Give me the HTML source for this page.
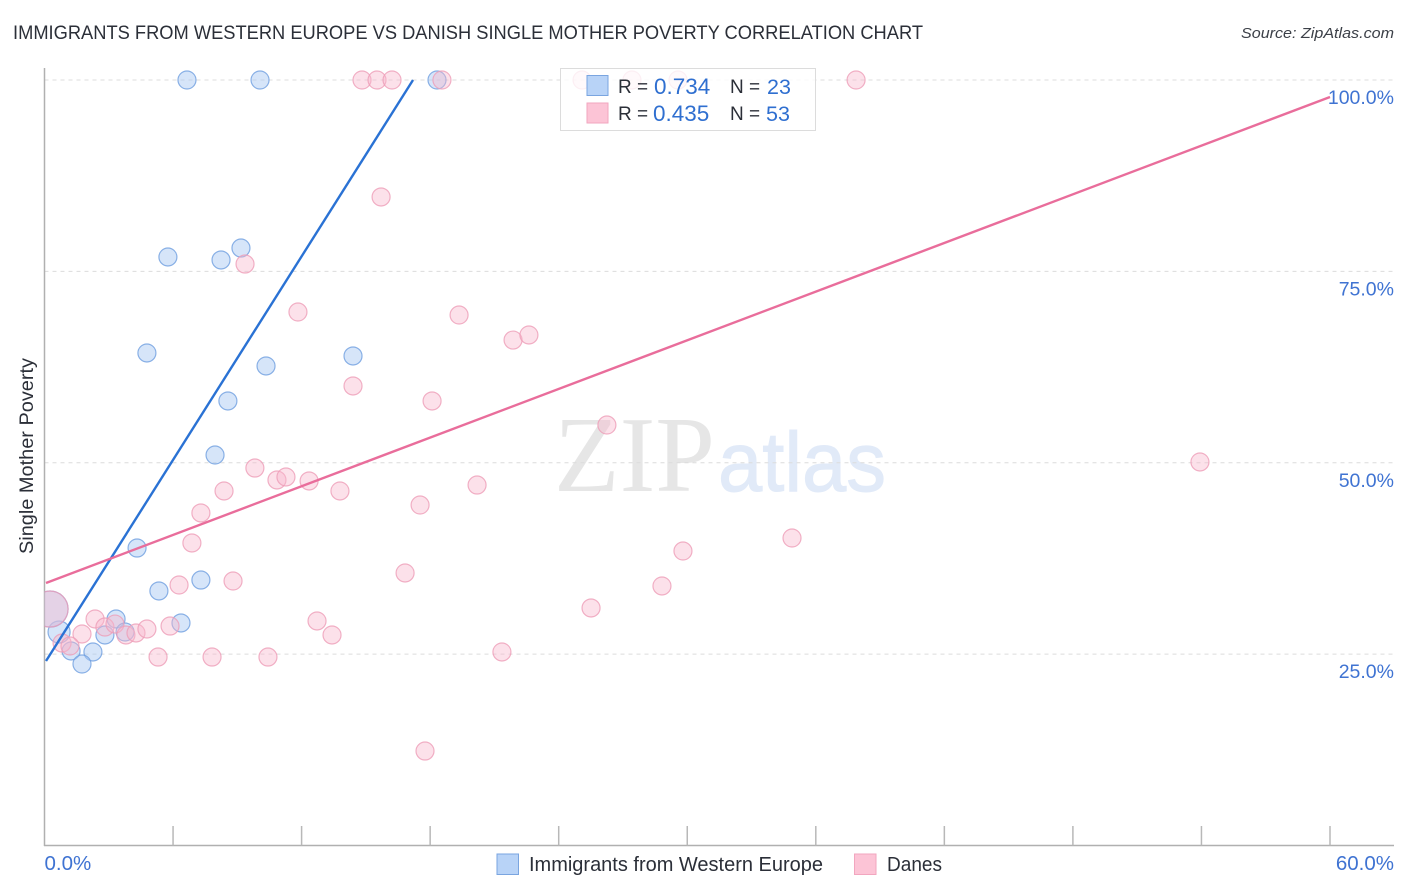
<!DOCTYPE html>
<html>
<head>
<meta charset="utf-8">
<title>Immigrants from Western Europe vs Danish Single Mother Poverty Correlation Chart</title>
<style>
html,body{margin:0;padding:0;background:#fff;}
svg{display:block;font-family:"Liberation Sans",sans-serif;}
</style>
</head>
<body>
<svg id="chart" width="1406" height="892" viewBox="0 0 1406 892" xmlns="http://www.w3.org/2000/svg">
  <rect x="0" y="0" width="1406" height="892" fill="#fff"/>
  <text x="13" y="39" font-size="19" fill="#2b2f38" textLength="910" lengthAdjust="spacingAndGlyphs">IMMIGRANTS FROM WESTERN EUROPE VS DANISH SINGLE MOTHER POVERTY CORRELATION CHART</text>
  <text x="1394" y="38" font-size="15" font-style="italic" fill="#3c4048" text-anchor="end" textLength="153" lengthAdjust="spacingAndGlyphs">Source: ZipAtlas.com</text>
  <g>
    <text x="554" y="491" font-family="'Liberation Serif',serif" font-size="108" fill="#e6e6e6" textLength="161" lengthAdjust="spacingAndGlyphs">ZIP</text>
    <text x="718" y="491" font-size="84" fill="#e1eaf8" stroke="#e1eaf8" stroke-width="1" textLength="168" lengthAdjust="spacingAndGlyphs">atlas</text>
  </g>
  <g id="grid"></g>
  <g id="axes">
    <line x1="44.5" y1="68" x2="44.5" y2="846" stroke="#b0b0b0" stroke-width="1.5"/>
    <line x1="44" y1="845.5" x2="1394" y2="845.5" stroke="#b0b0b0" stroke-width="1.5"/>
  </g>
  <g id="xticks"></g>
  <g id="ylabels"></g>
  <g id="xlabels"></g>
  <text transform="translate(33,456) rotate(-90)" font-size="19" fill="#2b2f38" text-anchor="middle" textLength="196" lengthAdjust="spacingAndGlyphs">Single Mother Poverty</text>
  <defs>
    <clipPath id="plot-clip"><rect x="44.5" y="60" width="1350" height="786"/></clipPath>
  </defs>
  <g id="points" clip-path="url(#plot-clip)"></g>
  <g id="trends"></g>

  <g>
    <rect x="560.5" y="68.5" width="255" height="62" fill="#fff" fill-opacity="0.8" stroke="#dcdcdc" stroke-width="1"/>
    <rect x="587" y="75.5" width="21" height="20" fill="#b8d3f7" stroke="#7aa5e0" stroke-width="1"/>
    <rect x="587" y="103" width="21" height="20" fill="#fcc4d6" stroke="#f2a6bf" stroke-width="1"/>
    <text x="618" y="93" font-size="19" fill="#2b2f38">R =</text>
    <text x="654" y="94" font-size="22.5" fill="#2f6fd0">0.734</text>
    <text x="730" y="93" font-size="19" fill="#2b2f38">N =</text>
    <text x="767" y="94" font-size="21.5" fill="#2f6fd0">23</text>
    <text x="618" y="120" font-size="19" fill="#2b2f38">R =</text>
    <text x="653" y="121" font-size="22.5" fill="#2f6fd0">0.435</text>
    <text x="730" y="120" font-size="19" fill="#2b2f38">N =</text>
    <text x="766" y="121" font-size="21.5" fill="#2f6fd0">53</text>
  </g>

  <g>
    <rect x="497" y="854" width="21.5" height="20.5" fill="#b8d3f7" stroke="#7aa5e0" stroke-width="1"/>
    <text x="529" y="871" font-size="20" fill="#2b2f38" textLength="294" lengthAdjust="spacingAndGlyphs">Immigrants from Western Europe</text>
    <rect x="854.5" y="854" width="21.5" height="20.5" fill="#fcc4d6" stroke="#f2a6bf" stroke-width="1"/>
    <text x="887" y="871" font-size="20" fill="#2b2f38" textLength="55" lengthAdjust="spacingAndGlyphs">Danes</text>
  </g>
</svg>
<script>
// Chart data
var yGridValues = [100, 75, 50, 25];
var yTickLabels = ["100.0%", "75.0%", "50.0%", "25.0%"];
var xTickValues = [6, 12, 18, 24, 30, 36, 42, 48, 54, 60];
var xLabelValues = [0, 60];
var xTickLabels = ["0.0%", "60.0%"];

var blueX = [6.65,10.06,18.32,5.76,8.24,9.17,4.78,10.34,14.40,8.56,7.96,4.32,5.34,7.30,6.37,3.34,3.76,2.82,0.68,1.24,2.26,1.75,0.26];
var blueY = [100,100,100,76.88,76.49,78.05,64.34,62.64,63.95,58.07,51.01,38.86,33.25,34.68,29.07,29.59,27.89,27.50,27.89,25.41,25.28,23.71,30.89];
var blueWeight = [1,1,1,1,1,1,1,1,1,1,1,1,1,1,1,1,1,1,1.5,1,1,1,4];

var pinkX = [14.82,15.52,16.22,18.55,25.09,27.42,29.57,37.88,15.71,9.36,11.83,19.35,21.87,22.61,14.40,18.09,26.25,9.82,8.38,10.85,11.27,12.35,13.79,20.19,17.53,7.30,6.88,53.93,34.89,29.80,28.82,16.83,6.28,8.80,25.51,2.36,2.82,3.29,3.80,4.27,4.78,5.86,1.75,12.72,13.42,5.30,7.82,10.43,21.35,17.76,0.82,1.19,0.26];
var pinkY = [100,100,100,100,100,100,100,100,84.72,75.96,69.69,69.30,66.03,66.69,60.03,58.07,54.93,49.31,46.31,47.75,48.14,47.62,46.31,47.09,44.48,43.44,39.52,50.10,40.17,38.47,33.90,35.60,34.03,34.55,31.03,29.59,28.54,28.93,27.50,27.76,28.28,28.67,27.63,29.33,27.50,24.62,24.62,24.62,25.28,12.34,26.45,26.06,30.89];
var pinkWeight = [1,1,1,1,1,1,1,1,1,1,1,1,1,1,1,1,1,1,1,1,1,1,1,1,1,1,1,1,1,1,1,1,1,1,1,1,1,1,1,1,1,1,1,1,1,1,1,1,1,1,1,1,4];

var blueTrendX = [0.07, 17.2];
var blueTrendY = [24.1, 100];
var pinkTrendX = [0.07, 60];
var pinkTrendY = [34.29, 97.78];

// Axis functions
function xScale(v) { return 44.5 + v * (1330 - 44.5) / 60; }
function yScale(v) { return 845.5 - v * (845.5 - 80) / 100; }
function rScale(w) { return 9 * Math.sqrt(w); }

var NS = "http://www.w3.org/2000/svg";
function make(tag, parent, attrs) {
  var el = document.createElementNS(NS, tag);
  for (var k in attrs) { el.setAttribute(k, attrs[k]); }
  parent.appendChild(el);
  return el;
}

var gridG = document.getElementById("grid");
var yLabelG = document.getElementById("ylabels");
yGridValues.forEach(function (v, i) {
  var ln = make("line", gridG, {x1: 44.5, x2: 1394, y1: yScale(v), y2: yScale(v), stroke: "#dcdcdc", "stroke-width": 1, "stroke-dasharray": "4 4"});
  
  
  var t = make("text", yLabelG, {x: 1394, y: yScale(v) + 24, "font-size": 19.5, fill: "#3f73d2", "text-anchor": "end"});
  
  
  t.textContent = yTickLabels[i];
});

var xTickG = document.getElementById("xticks");
xTickValues.forEach(function (v) {
  var ln = make("line", xTickG, {x1: xScale(v), x2: xScale(v), y1: 826, y2: 845.5, stroke: "#b8b8b8", "stroke-width": 1.5});
  
  
});

var xLabelG = document.getElementById("xlabels");
xLabelValues.forEach(function (v, i) {
  var t = make("text", xLabelG, {x: i === 0 ? xScale(v) : 1394, y: 870, "font-size": 20.5, fill: "#3f73d2", "text-anchor": i === 0 ? "start" : "end"});
  
  
  t.textContent = xTickLabels[i];
});

var pointG = document.getElementById("points");
blueX.forEach(function (v, i) {
  var c = make("circle", pointG, {cx: xScale(v), cy: yScale(blueY[i]), r: rScale(blueWeight[i]), fill: "#a9c8f2", "fill-opacity": 0.48, stroke: "#6f9fe0", "stroke-opacity": 0.8, "stroke-width": 1.2});
  
  
});
pinkX.forEach(function (v, i) {
  var c = make("circle", pointG, {cx: xScale(v), cy: yScale(pinkY[i]), r: rScale(pinkWeight[i]), fill: "#f9b8cc", "fill-opacity": 0.42, stroke: "#ee9db8", "stroke-opacity": 0.8, "stroke-width": 1.2});
  
  
});

var trendG = document.getElementById("trends");
var blueLine = make("line", trendG, {x1: xScale(blueTrendX[0]), y1: yScale(blueTrendY[0]), x2: xScale(blueTrendX[1]), y2: yScale(blueTrendY[1]), stroke: "#2a72d4", "stroke-width": 2.4});


var pinkLine = make("line", trendG, {x1: xScale(pinkTrendX[0]), y1: yScale(pinkTrendY[0]), x2: xScale(pinkTrendX[1]), y2: yScale(pinkTrendY[1]), stroke: "#e96d9b", "stroke-width": 2.4});


</script>
</body>
</html>
